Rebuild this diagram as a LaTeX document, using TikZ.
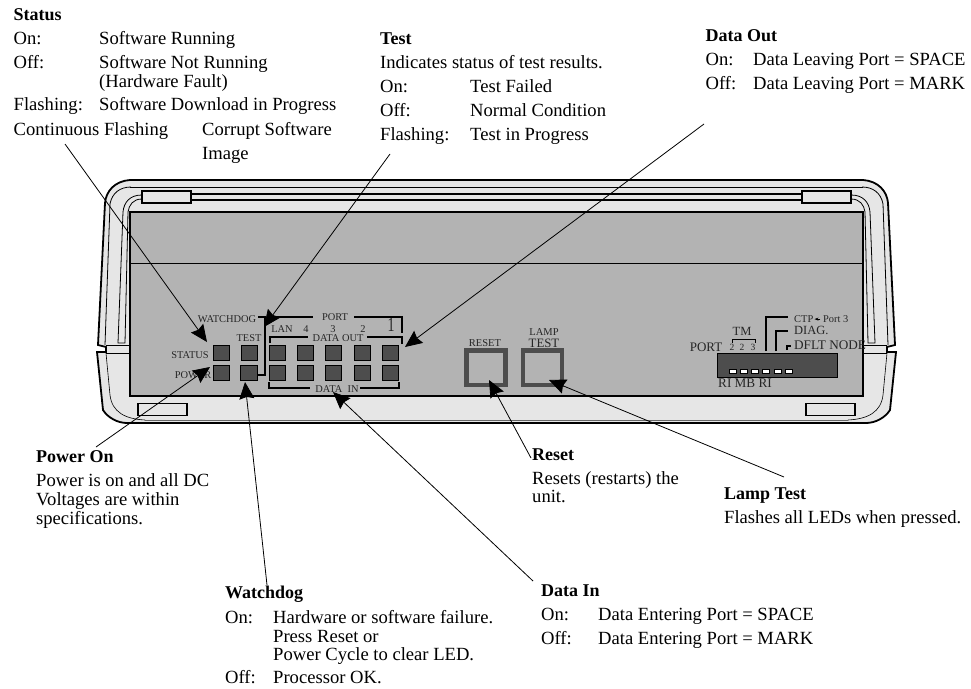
\documentclass[tikz,border=0pt]{standalone}
\usepackage{fontspec}
\setmainfont{Liberation Serif}
\usetikzlibrary{arrows.meta}
\definecolor{casefill}{HTML}{E6E6E6}
\definecolor{panelfill}{HTML}{B3B3B3}
\definecolor{ledfill}{HTML}{4D4D4D}
\newcommand{\halfcase}{%
  \draw[line width=.8pt] (110,204) .. controls (112,193) and (120,187) .. (131,187);
  \draw[line width=.8pt] (110,204) -- (105,345);
  \draw[line width=.8pt] (123,212) .. controls (124,202) and (130,195) .. (142,195);
  \draw[line width=.8pt] (128,212) .. controls (129,205) and (133,199) .. (142,199);
  \draw[line width=.8pt] (123,212) -- (118,343) -- (125,343) -- (128,212);
  \draw[line width=.8pt] (106,345) -- (130,345);
  \draw[line width=.8pt] (106,353) -- (130,353);
  \draw[line width=.6pt] (106,353) -- (110,395) .. controls (112,412) and (125,419) .. (145,420);
  \node[tabbox,minimum width=49pt] at (166.5,197) {};
  \node[tabbox,minimum width=49pt] at (162.5,409.5) {};
}
\tikzset{
  x=1pt,y=-1pt,
  txt/.style={anchor=base west,inner sep=0pt,font=\fontsize{18.6}{20}\selectfont},
  bold/.style={txt,font=\fontsize{18}{20}\selectfont\bfseries},
  lab/.style={inner sep=0pt,text=black!85,font=\fontsize{10.4}{12}\selectfont},
  tabbox/.style={draw,line width=1.4pt,fill=casefill,minimum height=12pt,inner sep=0pt},
  led/.style={draw,line width=.8pt,fill=ledfill,minimum width=16pt,minimum height=15pt,inner sep=0pt},
  btn/.style={draw=ledfill,line width=4.5pt,minimum width=39pt,minimum height=34.5pt,inner sep=0pt},
  brk/.style={line width=1.3pt},
  callout/.style={line width=.8pt,-{Stealth[length=17pt,width=15pt,inset=2pt]}},
}
\begin{document}
\begin{tikzpicture}
\useasboundingbox (0,0) rectangle (971,688);
\fill[white] (0,0) rectangle (971,688);
% case
\draw[line width=1.8pt,fill=casefill]
  (130,180) -- (863,180) .. controls (878,181) and (887,191) .. (888,203)
  -- (895,345) -- (887,347) -- (887,352) -- (896,352) -- (890,410)
  .. controls (885,418) and (875,423) .. (866,423) -- (127,423)
  .. controls (118,423) and (108,418) .. (103,410) -- (97,352) -- (106,352) -- (106,347) -- (98,345)
  -- (105,203) .. controls (106,191) and (115,181) .. (130,180) -- cycle;
\draw[line width=.8pt] (130,187) -- (863,187);
\draw[line width=1.3pt] (191,194) -- (802,194);
\draw[line width=1.3pt] (191,200) -- (802,200);
\draw[line width=.7pt,draw=black!60] (145,420) -- (848,420);
\halfcase
\begin{scope}[xshift=993pt,xscale=-1]
\halfcase
\end{scope}
% panel
\draw[line width=1.4pt,fill=panelfill] (130,212) rectangle (863,396);
\draw[line width=.8pt] (130,263.5) -- (863,263.5);
% LEDs
\foreach \nm/\cx in {a/221,b/249,c/277,d/305.5,e/333,f/362,g/390}{
  \node[led] (top\nm) at (\cx,352.5) {};
  \node[led] (bot\nm) at (\cx,373) {};
}
\node[draw,line width=1.6pt,fill=ledfill,minimum width=17pt,minimum height=15pt,inner sep=0pt] (wdg) at (249,373) {};
% panel labels left
\node[lab] (lblStatus) at (190,355) {STATUS};
\node[lab] (lblPower) at (193,375) {POWER};
\node[lab] (lblWd) at (227,319.5) {WATCHDOG};
\node[lab] (lblTest) at (249,338) {TEST};
\node[lab] (lblPort) at (335,317.5) {PORT};
\node[lab] (lblLan) at (282,329) {LAN};
\node[lab] (lblF) at (306,329) {4};
\node[lab] (lblT) at (333,329) {3};
\node[lab] (lblW) at (363,329) {2};
\node[lab,font=\fontsize{20}{20}\selectfont,xscale=.7] (lblO) at (391,325) {1};
\node[lab] (lblDo) at (338,338) {DATA OUT};
\node[lab] (lblDi) at (337,389) {DATA\ \ IN};
\draw[brk] (258,317) -- (265,317) -- (265,375) -- (258,375);
\draw[brk] (270,322) -- (270,317) -- (313,317);
\draw[brk] (354,317) -- (402,317) -- (402,333);
\draw[brk] (270,343) -- (270,337) -- (308,337);
\draw[brk] (367,337) -- (402,337) -- (402,344);
\draw[brk] (269,382) -- (269,388) -- (310,388);
\draw[brk] (360,388) -- (399,388) -- (399,382);
% buttons
\node[btn] (reset) at (486,367.5) {};
\node[btn] (lamp) at (542.5,367.5) {};
\node[lab,font=\fontsize{10.5}{11}\selectfont] (lblReset) at (485,343) {RESET};
\node[lab,font=\fontsize{10.5}{11}\selectfont] (lblLamp) at (544,332.5) {LAMP};
\node[lab,font=\fontsize{12.8}{13}\selectfont] (lblLt) at (544,343) {TEST};
% strip
\node[draw,line width=.8pt,fill=ledfill,minimum width=120pt,minimum height=24pt,inner sep=0pt] (strip) at (777,365) {};
\foreach \i in {0,...,5}{
  \node[draw,line width=.6pt,fill=white,minimum width=7pt,minimum height=4pt,inner sep=0pt] (sw\i) at (732.5+\i*11.2,371.5) {};
}
\node[lab,font=\fontsize{13}{13}\selectfont] (lblP2) at (706,347.5) {PORT};
\node[lab,font=\fontsize{9.5}{11}\selectfont] (p1) at (732,347.5) {2};
\node[lab,font=\fontsize{9.5}{11}\selectfont] (p2) at (742,347.5) {2};
\node[lab,font=\fontsize{9.5}{11}\selectfont] (p3) at (753,347.5) {3};
\node[lab,font=\fontsize{12.5}{13}\selectfont] (lblTm) at (742,331) {TM};
\node[lab,font=\fontsize{13.2}{14}\selectfont] (lblRi) at (745,383) {RI MB RI};
\draw[line width=1pt] (732,343) -- (732,339) -- (755,339) -- (755,343);
\draw[brk] (766,351) -- (766,317) -- (788,317);
\draw[brk] (776,351) -- (776,331) -- (788,331);
\draw[brk] (787,350) -- (787,346) -- (791,346);
\node[lab,anchor=base west] (lblCtp) at (794,322) {CTP};
\draw[line width=.8pt,-{Stealth[length=4pt,width=3pt]}] (lblCtp.east) ++(7pt,-.5pt) -- ++(-6pt,0pt);
\node[lab,anchor=base west] (lblP3) at (823,322) {Port 3};
\node[lab,anchor=base west,font=\fontsize{12.5}{13}\selectfont] (lblDiag) at (794,334) {DIAG.};
\node[lab,anchor=base west,font=\fontsize{13.2}{14}\selectfont] (lblDflt) at (794,349) {DFLT NODE};
% callout texts
\node[bold] (tStatus) at (13.5,20) {Status};
\node[txt] (s1) at (13.5,44) {On:};
\node[txt] (s1b) at (99,44) {Software Running};
\node[txt] (s2) at (13.5,68) {Off:};
\node[txt] (s2b) at (99,68) {Software Not Running};
\node[txt] (s2c) at (99,87) {(Hardware Fault)};
\node[txt] (s3) at (13.5,110) {Flashing:};
\node[txt] (s3b) at (99,110) {Software Download in Progress};
\node[txt] (s4) at (13.5,135) {Continuous Flashing};
\node[txt] (s4b) at (202,135) {Corrupt Software};
\node[txt] (s4c) at (202,159) {Image};
\node[bold] (tTest) at (380,44) {Test};
\node[txt] (t0) at (380,68) {Indicates status of test results.};
\node[txt] (t1) at (380,92) {On:};
\node[txt] (t1b) at (470,92) {Test Failed};
\node[txt] (t2) at (380,116) {Off:};
\node[txt] (t2b) at (470,116) {Normal Condition};
\node[txt] (t3) at (380,140) {Flashing:};
\node[txt] (t3b) at (470,140) {Test in Progress};
\node[bold] (tOut) at (705.5,41) {Data Out};
\node[txt] (o1) at (705.5,65) {On:};
\node[txt] (o1b) at (753,65) {Data Leaving Port = SPACE};
\node[txt] (o2) at (705.5,89) {Off:};
\node[txt] (o2b) at (753,89) {Data Leaving Port = MARK};
\node[bold] (tPow) at (36,462) {Power On};
\node[txt] (pw1) at (36,486) {Power is on and all DC};
\node[txt] (pw2) at (36,505) {Voltages are within};
\node[txt] (pw3) at (36,524) {specifications.};
\node[bold] (tWd) at (225,598) {Watchdog};
\node[txt] (w1) at (225,623) {On:};
\node[txt] (w1b) at (273,623) {Hardware or software failure.};
\node[txt] (w2) at (273,642) {Press Reset or};
\node[txt] (w3) at (273,660) {Power Cycle to clear LED.};
\node[txt] (w4) at (225,683) {Off:};
\node[txt] (w4b) at (273,683) {Processor OK.};
\node[bold] (tRes) at (532,460) {Reset};
\node[txt] (r1) at (532,484) {Resets (restarts) the};
\node[txt] (r2) at (532,502) {unit.};
\node[bold] (tLamp) at (724,499) {Lamp Test};
\node[txt] (l1) at (724,523) {Flashes all LEDs when pressed.};
\node[bold] (tIn) at (541,596) {Data In};
\node[txt] (i1) at (541,620) {On:};
\node[txt] (i1b) at (598,620) {Data Entering Port = SPACE};
\node[txt] (i2) at (541,644) {Off:};
\node[txt] (i2b) at (598,644) {Data Entering Port = MARK};
% callouts
\coordinate (cStatusA) at (65,144);   \coordinate (cStatusB) at (207,342);
\coordinate (cTestA) at (390,154);    \coordinate (cTestB) at (264,327);
\coordinate (cOutA) at (704,124);     \coordinate (cOutB) at (405,347);
\coordinate (cPowA) at (96,447);      \coordinate (cPowB) at (210,367);
\coordinate (cWdA) at (267,585);      \coordinate (cWdB) at (245,382);
\coordinate (cInA) at (533,581);      \coordinate (cInB) at (333,392);
\coordinate (cResA) at (531,458);     \coordinate (cResB) at (489,380);
\coordinate (cLampA) at (784,477);    \coordinate (cLampB) at (549,380);
\draw[callout] (cStatusA) -- (cStatusB);
\draw[callout] (cTestA) -- (cTestB);
\draw[callout] (cOutA) -- (cOutB);
\draw[callout] (cPowA) -- (cPowB);
\draw[callout] (cWdA) -- (cWdB);
\draw[callout] (cInA) -- (cInB);
\draw[callout] (cResA) -- (cResB);
\draw[callout] (cLampA) -- (cLampB);
\end{tikzpicture}
\end{document}
